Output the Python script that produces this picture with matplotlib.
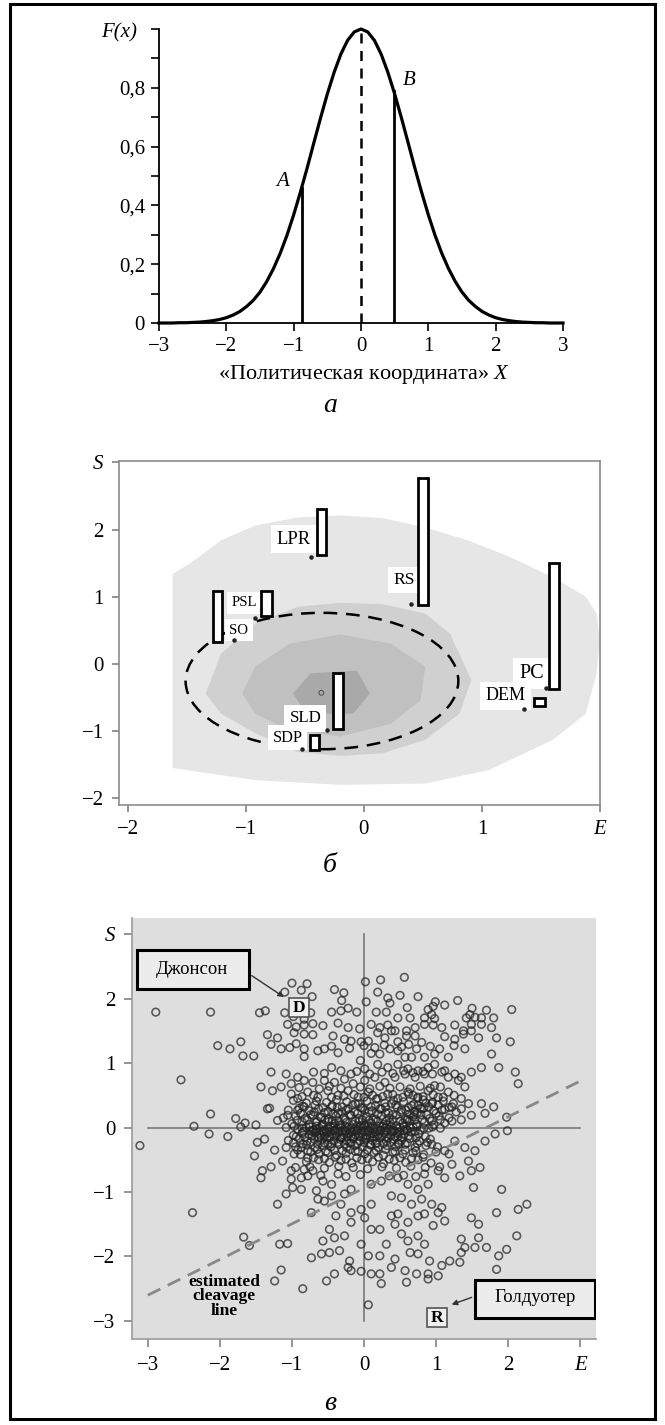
import matplotlib
matplotlib.use("Agg")
import matplotlib.pyplot as plt
import numpy as np
from matplotlib.patches import Rectangle, Ellipse

plt.rcParams["font.family"] = ["Liberation Serif", "DejaVu Serif"]
plt.rcParams["mathtext.fontset"] = "custom"
plt.rcParams["mathtext.rm"] = "Liberation Serif"
plt.rcParams["mathtext.it"] = "Liberation Serif:italic"

# ---- panel a: curve, x every 0.1 from -3 to 3
curve_y = [0.000, 0.000, 0.000, 0.001, 0.001, 0.002, 0.003, 0.005, 0.008, 0.012,
           0.018, 0.027, 0.039, 0.056, 0.077, 0.105, 0.141, 0.185, 0.237, 0.298,
           0.368, 0.445, 0.527, 0.613, 0.698, 0.779, 0.852, 0.914, 0.961, 0.990,
           1.000,
           0.990, 0.961, 0.914, 0.852, 0.779, 0.698, 0.613, 0.527, 0.445, 0.368,
           0.298, 0.237, 0.185, 0.141, 0.105, 0.077, 0.056, 0.039, 0.027, 0.018,
           0.012, 0.008, 0.005, 0.003, 0.002, 0.001, 0.001, 0.000, 0.000, 0.000]
curve_x = np.arange(-30, 31) / 10
cut_names = ["A", "B"]
cut_x = [-0.88, 0.49]
cut_h = [0.46, 0.79]

# ---- panel b: density contours, parties
zone1_E = [-1.62, -1.62, -1.46, -1.21, -0.92, -0.56, -0.20, 0.16, 0.52, 0.88, 1.24, 1.60,
           1.88, 1.97, 2.0, 1.97, 1.88, 1.60, 1.06, 0.52, -0.20, -0.92]
zone1_S = [-1.55, 1.34, 1.51, 1.84, 2.06, 2.18, 2.21, 2.17, 2.03, 1.84, 1.59, 1.29,
           1.0, 0.75, 0.35, -0.15, -0.74, -1.13, -1.58, -1.78, -1.80, -1.73]
zone2_E = [-1.34, -1.21, -0.92, -0.56, -0.20, 0.16, 0.52, 0.73, 0.91, 0.81, 0.52, 0.16,
           -0.20, -0.56, -0.92, -1.21]
zone2_S = [-0.44, 0.15, 0.60, 0.85, 0.91, 0.89, 0.75, 0.45, -0.24, -0.74, -1.13, -1.33,
           -1.37, -1.31, -1.03, -0.74]
zone3_E = [-1.03, -0.92, -0.63, -0.20, 0.23, 0.52, 0.48, 0.23, -0.20, -0.63, -0.92]
zone3_S = [-0.44, -0.04, 0.30, 0.44, 0.30, -0.04, -0.54, -0.89, -1.08, -0.99, -0.74]
zone4_E = [-0.60, -0.45, -0.06, 0.05, -0.09, -0.49]
zone4_S = [-0.44, -0.14, -0.10, -0.44, -0.74, -0.74]
center_E, center_S = -0.36, -0.43
ellipse_E, ellipse_S, ellipse_w, ellipse_h = -0.355, -0.255, 2.31, 2.03

parties = ["LPR", "RS", "PSL", "SO", "SLD", "SDP", "PC", "DEM"]
party_E = [-0.45, 0.40, -0.92, -1.10, -0.31, -0.52, 1.54, 1.36]
party_S = [1.59, 0.89, 0.69, 0.35, -0.99, -1.26, -0.36, -0.67]
bar_left = [-0.40, 0.457, -0.87, -1.28, -0.26, -0.46, 1.57, 1.44]
bar_right = [-0.32, 0.543, -0.78, -1.20, -0.18, -0.38, 1.65, 1.53]
bar_lo = [1.62, 0.88, 0.71, 0.33, -0.97, -1.28, -0.38, -0.63]
bar_hi = [2.31, 2.76, 1.09, 1.09, -0.14, -1.06, 1.50, -0.50]

# ---- panel c: voters (E, S)
voters = [
    (0.56, 2.33), (0.23, 2.29), (0.02, 2.26), (-1.0, 2.24), (-0.79, 2.23), (-0.87, 2.13),
    (-0.41, 2.14), (-0.28, 2.09), (-1.10, 2.10), (-0.72, 2.03), (0.19, 2.10), (0.33, 2.01),
    (0.50, 2.05), (0.75, 2.03), (-0.31, 1.97), (0.03, 1.95), (0.36, 1.93), (0.99, 1.95),
    (1.30, 1.97), (0.60, 1.86), (0.89, 1.83), (0.96, 1.88), (1.50, 1.85), (1.70, 1.82),
    (2.05, 1.83), (1.12, 1.90), (-2.89, 1.79), (-2.13, 1.79), (-1.45, 1.78), (-1.37, 1.81),
    (-1.10, 1.78), (-0.45, 1.79), (-0.32, 1.81), (-0.22, 1.85), (-0.10, 1.79), (0.17, 1.79),
    (0.31, 1.79), (0.47, 1.70), (0.64, 1.70), (0.84, 1.70), (0.94, 1.75), (0.98, 1.69),
    (1.42, 1.70), (1.47, 1.75), (1.54, 1.71), (1.63, 1.70), (1.80, 1.70), (-0.98, 1.72),
    (-0.83, 1.68), (-0.74, 1.78),
    (-1.06, 1.60), (-0.94, 1.56), (-0.83, 1.59), (-0.71, 1.61), (-0.57, 1.58), (-0.36, 1.62),
    (-0.22, 1.55), (-0.06, 1.53), (0.10, 1.60), (0.22, 1.55), (0.33, 1.59), (0.43, 1.50),
    (0.59, 1.50), (0.71, 1.55), (0.84, 1.60), (0.96, 1.59), (1.08, 1.55), (1.26, 1.59),
    (1.38, 1.50), (1.49, 1.60), (1.63, 1.60), (1.77, 1.55),
    (-1.34, 1.44), (-1.20, 1.39), (-0.97, 1.47), (-0.83, 1.45), (-0.71, 1.44), (-0.43, 1.42),
    (-0.27, 1.37), (-0.18, 1.34), (-0.04, 1.33), (0.06, 1.34), (0.19, 1.47), (0.29, 1.39),
    (0.38, 1.50), (0.47, 1.33), (0.59, 1.42), (0.71, 1.42), (0.80, 1.32), (1.12, 1.41),
    (1.26, 1.37), (1.38, 1.45), (1.49, 1.50), (1.59, 1.39), (1.84, 1.39), (2.03, 1.33),
    (-2.03, 1.27), (-1.86, 1.22), (-1.71, 1.33), (-1.68, 1.11), (-1.53, 1.11), (-1.29, 1.29),
    (-1.15, 1.22), (-1.03, 1.24), (-0.94, 1.30), (-0.83, 1.22), (-0.64, 1.19), (-0.55, 1.22),
    (-0.83, 1.10), (-0.36, 1.16), (-0.05, 1.04), (0.10, 1.15), (0.22, 1.14), (0.36, 1.22),
    (0.47, 1.19), (0.57, 1.09), (0.66, 1.09), (0.73, 1.22), (0.84, 1.09), (0.98, 1.14),
    (1.17, 1.09), (1.40, 1.22), (1.77, 1.14),
    (-0.45, 1.26), (-0.20, 1.23), (0.00, 1.27), (0.15, 1.24), (0.28, 1.28), (0.52, 1.25),
    (0.62, 1.29), (0.92, 1.26), (1.05, 1.22), (1.25, 1.27),
    (-0.45, 0.93), (-0.32, 0.88), (-0.18, 0.83), (0.01, 0.91), (0.19, 0.98), (0.33, 0.93),
    (0.47, 0.98), (0.61, 0.91), (0.75, 0.88), (0.89, 0.93), (0.98, 0.98), (1.12, 0.88),
    (1.26, 0.83), (1.35, 0.78), (1.49, 0.86), (1.63, 0.93), (1.87, 0.93), (2.10, 0.86),
    (2.14, 0.68), (-2.54, 0.74), (-1.29, 0.86), (-1.08, 0.83), (-0.92, 0.78), (-1.43, 0.63),
    (-1.27, 0.57), (-1.15, 0.63), (-1.01, 0.68), (-0.83, 0.73), (-0.71, 0.70), (-0.55, 0.73),
    (-0.41, 0.70), (-0.27, 0.75), (-0.15, 0.68), (0.01, 0.73), (0.15, 0.78), (0.29, 0.70),
    (0.43, 0.78), (0.57, 0.83), (0.71, 0.78), (0.84, 0.83), (0.98, 0.65), (1.17, 0.78),
    (1.31, 0.73), (1.40, 0.63),
    (-0.70, 0.86), (-0.55, 0.84), (-0.10, 0.87), (0.08, 0.83), (0.25, 0.86), (0.40, 0.84),
    (0.55, 0.88), (0.68, 0.85), (0.82, 0.87), (0.95, 0.83), (1.08, 0.86),
    (-0.90, 0.62), (-0.62, 0.60), (-0.48, 0.64), (-0.32, 0.61), (-0.05, 0.63), (0.08, 0.60),
    (0.22, 0.64), (0.36, 0.61), (0.50, 0.63), (0.64, 0.60), (0.78, 0.64), (0.92, 0.61),
    (1.06, 0.63),
    (-1.01, 0.52), (-0.92, 0.45), (-0.78, 0.55), (-0.64, 0.47), (-0.50, 0.57), (-0.36, 0.50),
    (-0.22, 0.57), (-0.08, 0.47), (0.06, 0.55), (0.19, 0.45), (0.33, 0.52), (0.47, 0.45),
    (0.61, 0.55), (0.75, 0.47), (0.89, 0.57), (1.03, 0.47), (1.17, 0.55), (1.35, 0.45),
    (1.45, 0.37), (1.63, 0.37), (1.80, 0.32),
    (-0.86, 0.48), (-0.70, 0.50), (-0.45, 0.47), (-0.28, 0.49), (-0.14, 0.51), (0.00, 0.47),
    (0.12, 0.50), (0.26, 0.48), (0.40, 0.51), (0.54, 0.47), (0.68, 0.50), (0.82, 0.48),
    (0.96, 0.51), (1.10, 0.47), (1.25, 0.50),
    (-2.13, 0.21), (-1.78, 0.14), (-1.50, 0.04), (-1.34, 0.29), (-1.20, 0.11), (-1.06, 0.19),
    (-0.92, 0.27), (-0.83, 0.32), (-0.69, 0.24), (-0.59, 0.16), (-0.45, 0.32), (-0.36, 0.22),
    (-0.22, 0.29), (-0.08, 0.37), (0.01, 0.27), (0.10, 0.32), (0.24, 0.29), (0.38, 0.37),
    (0.52, 0.27), (0.66, 0.34), (0.80, 0.29), (0.94, 0.37), (1.08, 0.27), (1.22, 0.32),
    (1.35, 0.29), (1.49, 0.19), (1.68, 0.22), (1.98, 0.16), (-2.36, 0.02), (-1.71, 0.01),
    (-1.65, 0.07), (-1.31, 0.30), (1.99, -0.05),
    # dense core
    (-0.98, 0.42), (-0.80, 0.38), (-0.66, 0.41), (-0.52, 0.39), (-0.38, 0.43), (-0.24, 0.40),
    (-0.12, 0.37), (0.04, 0.41), (0.17, 0.44), (0.29, 0.38), (0.41, 0.42), (0.55, 0.40),
    (0.69, 0.36), (0.82, 0.43), (0.95, 0.39), (1.10, 0.41), (1.24, 0.37),
    (-0.85, 0.33), (-0.68, 0.35), (-0.57, 0.31), (-0.44, 0.34), (-0.30, 0.32), (-0.16, 0.35),
    (-0.04, 0.31), (0.16, 0.34), (0.30, 0.32), (0.44, 0.35), (0.62, 0.31), (0.75, 0.34),
    (0.90, 0.32), (1.03, 0.35), (1.18, 0.31),
    (-1.05, 0.27), (-0.90, 0.30), (-0.76, 0.26), (-0.63, 0.29), (-0.50, 0.25), (-0.37, 0.31),
    (-0.25, 0.27), (-0.13, 0.24), (-0.02, 0.30), (0.11, 0.26), (0.22, 0.29), (0.34, 0.23),
    (0.46, 0.31), (0.58, 0.27), (0.70, 0.25), (0.83, 0.30), (0.97, 0.26), (1.12, 0.28),
    (1.28, 0.24),
    (-0.88, 0.22), (-0.74, 0.20), (-0.55, 0.23), (-0.43, 0.21), (-0.31, 0.24), (-0.20, 0.20),
    (-0.09, 0.22), (0.07, 0.24), (0.19, 0.21), (0.30, 0.23), (0.40, 0.20), (0.51, 0.24),
    (0.63, 0.21), (0.74, 0.23), (0.87, 0.20), (1.00, 0.22),
    (-1.12, 0.15), (-0.95, 0.18), (-0.82, 0.14), (-0.71, 0.19), (-0.60, 0.16), (-0.49, 0.13),
    (-0.39, 0.18), (-0.28, 0.15), (-0.18, 0.19), (-0.07, 0.14), (0.03, 0.17), (0.13, 0.12),
    (0.24, 0.18), (0.35, 0.15), (0.45, 0.19), (0.57, 0.13), (0.68, 0.17), (0.79, 0.20),
    (0.91, 0.14), (1.04, 0.18), (1.18, 0.15), (1.35, 0.12),
    (-0.93, 0.11), (-0.79, 0.12), (-0.65, 0.10), (-0.54, 0.12), (-0.44, 0.11), (-0.35, 0.10),
    (-0.26, 0.12), (-0.12, 0.10), (-0.02, 0.12), (0.07, 0.11), (0.16, 0.13), (0.31, 0.10),
    (0.40, 0.12), (0.50, 0.10), (0.60, 0.13), (0.70, 0.11), (0.81, 0.12), (0.94, 0.10),
    (1.06, 0.12), (1.22, 0.10),
    (-1.00, 0.06), (-0.86, 0.09), (-0.76, 0.05), (-0.67, 0.08), (-0.58, 0.04), (-0.49, 0.09),
    (-0.41, 0.06), (-0.32, 0.03), (-0.24, 0.08), (-0.15, 0.05), (-0.07, 0.09), (0.02, 0.04),
    (0.10, 0.07), (0.19, 0.10), (0.27, 0.05), (0.36, 0.08), (0.45, 0.03), (0.54, 0.07),
    (0.63, 0.10), (0.73, 0.05), (0.84, 0.08), (0.97, 0.04), (1.12, 0.07),
    (-1.08, 0.00), (-0.97, 0.02), (-0.86, -0.01), (-0.75, 0.01), (-0.66, -0.02), (-0.58, 0.02),
    (-0.50, -0.01), (-0.42, 0.02), (-0.34, 0.00), (-0.26, 0.02), (-0.18, -0.01), (-0.10, 0.02),
    (-0.02, 0.00), (0.06, 0.02), (0.14, -0.01), (0.22, 0.02), (0.30, 0.00), (0.38, 0.02),
    (0.46, -0.01), (0.55, 0.02), (0.64, 0.00), (0.73, 0.02), (0.83, -0.01), (0.95, 0.01),
    (1.06, -0.01),
    (-0.92, -0.03), (-0.80, 0.00), (-0.70, -0.04), (-0.62, -0.01), (-0.54, -0.03), (-0.46, 0.01),
    (-0.38, -0.02), (-0.30, -0.05), (-0.22, 0.00), (-0.14, -0.03), (-0.06, 0.01), (0.02, -0.04),
    (0.10, -0.01), (0.18, -0.03), (0.26, 0.01), (0.34, -0.02), (0.42, -0.05), (0.50, 0.00),
    (0.59, -0.03), (0.68, 0.01), (0.78, -0.04), (0.90, -0.01),
    (-0.84, -0.06), (-0.74, -0.05), (-0.66, -0.07), (-0.57, -0.05), (-0.49, -0.07), (-0.41, -0.04),
    (-0.33, -0.06), (-0.25, -0.05), (-0.17, -0.07), (-0.09, -0.04), (-0.01, -0.06), (0.07, -0.05),
    (0.15, -0.07), (0.23, -0.04), (0.31, -0.06), (0.40, -0.05), (0.49, -0.07), (0.60, -0.04),
    (0.71, -0.06),
    (-0.98, -0.12), (-0.86, -0.09), (-0.76, -0.11), (-0.68, -0.08), (-0.60, -0.12), (-0.52, -0.09),
    (-0.44, -0.11), (-0.36, -0.08), (-0.28, -0.12), (-0.20, -0.09), (-0.12, -0.11), (-0.04, -0.08),
    (0.04, -0.12), (0.12, -0.09), (0.20, -0.11), (0.28, -0.08), (0.37, -0.12), (0.46, -0.09),
    (0.55, -0.11), (0.65, -0.07), (0.76, -0.10),
    (-0.94, -0.14), (-0.82, -0.15), (-0.72, -0.13), (-0.63, -0.16), (-0.55, -0.14), (-0.47, -0.15),
    (-0.39, -0.13), (-0.31, -0.16), (-0.23, -0.14), (-0.15, -0.15), (-0.07, -0.13), (0.01, -0.16),
    (0.09, -0.14), (0.17, -0.15), (0.25, -0.13), (0.34, -0.16), (0.43, -0.14), (0.52, -0.15),
    (0.62, -0.13), (0.72, -0.16), (0.85, -0.14),
    (-1.05, -0.20), (-0.90, -0.17), (-0.79, -0.21), (-0.69, -0.18), (-0.60, -0.20), (-0.51, -0.16),
    (-0.42, -0.21), (-0.33, -0.18), (-0.24, -0.20), (-0.15, -0.17), (-0.06, -0.21), (0.03, -0.18),
    (0.12, -0.20), (0.22, -0.16), (0.31, -0.21), (0.41, -0.18), (0.52, -0.20), (0.64, -0.17),
    (0.77, -0.21), (0.92, -0.18),
    (-0.98, -0.24), (-0.85, -0.25), (-0.74, -0.23), (-0.64, -0.26), (-0.55, -0.24), (-0.45, -0.25),
    (-0.36, -0.23), (-0.27, -0.26), (-0.18, -0.24), (-0.09, -0.25), (0.00, -0.23), (0.09, -0.26),
    (0.18, -0.24), (0.27, -0.25), (0.37, -0.23), (0.48, -0.26), (0.60, -0.24), (0.74, -0.25),
    (0.88, -0.23),
    (-0.95, -0.30), (-0.80, -0.27), (-0.68, -0.31), (-0.57, -0.28), (-0.46, -0.30), (-0.35, -0.26),
    (-0.24, -0.31), (-0.13, -0.28), (-0.02, -0.30), (0.09, -0.27), (0.20, -0.31), (0.32, -0.28),
    (0.44, -0.30), (0.57, -0.26), (0.71, -0.31), (0.86, -0.28), (1.02, -0.30),
    (-0.92, -0.35), (-0.78, -0.36), (-0.65, -0.34), (-0.53, -0.37), (-0.41, -0.35), (-0.30, -0.36),
    (-0.19, -0.34), (-0.08, -0.37), (0.05, -0.35), (0.17, -0.36), (0.30, -0.34), (0.43, -0.37),
    (0.57, -0.35), (0.72, -0.36),
    (-0.88, -0.42), (-0.74, -0.38), (-0.62, -0.41), (-0.50, -0.39), (-0.38, -0.43), (-0.25, -0.40),
    (-0.12, -0.37), (0.01, -0.41), (0.14, -0.39), (0.27, -0.43), (0.40, -0.38), (0.54, -0.41),
    (0.68, -0.39), (0.83, -0.42), (1.00, -0.38), (1.18, -0.41),
    (-0.70, -0.47), (-0.55, -0.48), (-0.40, -0.46), (-0.25, -0.49), (-0.10, -0.47), (0.05, -0.48),
    (0.20, -0.46), (0.35, -0.49), (0.50, -0.47), (0.66, -0.48), (0.82, -0.46),
    (-0.80, -0.53), (-0.63, -0.50), (-0.48, -0.54), (-0.32, -0.51), (-0.17, -0.55), (-0.03, -0.50),
    (0.12, -0.53), (0.27, -0.56), (0.42, -0.51), (0.58, -0.54), (0.75, -0.50), (0.93, -0.55),
    (-0.95, -0.62), (-0.75, -0.61), (-0.55, -0.63), (-0.35, -0.60), (-0.15, -0.62), (0.05, -0.64),
    (0.25, -0.61), (0.45, -0.63), (0.65, -0.60), (0.85, -0.62), (1.05, -0.61),
    (-0.78, -0.75), (-0.60, -0.74), (-0.25, -0.76), (-0.05, -0.73), (0.35, -0.75), (0.55, -0.74),
    (0.72, -0.76),
    (-0.72, -0.06), (-0.64, -0.15), (-0.56, -0.06), (-0.48, -0.14), (-0.40, -0.05), (-0.32, -0.15),
    (-0.26, -0.06), (-0.18, -0.14), (-0.10, -0.05), (-0.02, -0.15), (0.06, -0.06), (0.14, -0.14),
    (0.22, -0.05), (0.30, -0.15), (0.38, -0.06), (0.47, -0.14), (0.56, -0.05),
    (-0.66, 0.02), (-0.50, -0.25), (-0.34, 0.04), (-0.20, -0.24), (0.00, 0.03), (0.16, -0.25),
    (0.32, 0.04), (0.48, -0.24), (0.60, 0.12), (0.70, 0.20), (0.78, 0.30), (0.86, 0.38),
    (0.74, 0.46), (0.62, 0.52),
    # lower half
    (-3.11, -0.28), (-2.15, -0.10), (-1.89, -0.14), (-1.48, -0.23), (-1.38, -0.18), (-1.52, -0.44),
    (-1.24, -0.35), (-1.41, -0.67), (-1.29, -0.61), (-1.43, -0.78), (-1.13, -0.52), (-1.08, -0.31),
    (-0.97, -0.41), (-0.87, -0.31), (-0.78, -0.47), (-1.01, -0.67), (-0.87, -0.78), (-1.01, -0.80),
    (-0.83, -0.65), (-0.99, -0.93), (-0.87, -0.96), (-1.08, -1.03), (-1.20, -1.19), (-0.71, -0.67),
    (-0.66, -0.98), (-0.57, -0.83), (-0.45, -0.88), (-0.36, -0.72), (-0.64, -1.11), (-0.55, -1.14),
    (-0.45, -1.06), (-0.27, -1.03), (-0.18, -0.96), (-0.32, -1.19), (-0.18, -1.32), (-0.04, -1.27),
    (0.10, -1.19), (0.01, -1.40), (-0.73, -1.32), (-0.39, -1.37), (-0.48, -1.58), (-0.18, -1.47),
    (0.10, -0.88), (0.24, -0.83), (0.47, -0.78), (0.61, -0.88), (0.75, -0.96), (0.89, -0.88),
    (0.38, -1.06), (0.52, -1.09), (0.66, -1.19), (0.80, -1.11), (0.94, -1.19), (1.08, -1.24),
    (0.38, -1.37), (0.47, -1.34), (0.61, -1.47), (0.75, -1.37), (0.84, -1.34), (1.03, -1.32),
    (1.12, -1.45), (1.49, -1.40), (1.59, -1.50), (1.84, -1.32), (2.14, -1.27), (2.26, -1.19),
    (1.33, -0.75), (1.49, -0.67), (1.52, -0.93), (1.91, -0.96), (-2.38, -1.32), (-1.67, -1.70),
    (-1.59, -1.83), (-1.17, -1.81), (-1.06, -1.80), (-0.73, -2.02), (-0.59, -1.96), (-0.48, -1.94),
    (-0.34, -1.91), (-0.57, -1.76), (-0.41, -1.71), (-0.27, -1.68), (-0.04, -1.81), (0.10, -1.58),
    (0.22, -1.58), (0.31, -1.81), (0.43, -1.50), (0.52, -1.65), (0.61, -1.76), (0.75, -1.68),
    (0.84, -1.81), (0.96, -1.52), (0.06, -1.99), (0.22, -1.99), (0.43, -2.04), (0.64, -1.94),
    (0.75, -1.96), (0.91, -2.07), (1.08, -2.14), (-0.20, -2.07), (-0.22, -2.17), (-0.18, -2.22),
    (-0.04, -2.23), (0.10, -2.27), (0.22, -2.27), (0.38, -2.17), (0.57, -2.22), (0.73, -2.27),
    (0.89, -2.27), (1.03, -2.30), (1.19, -2.07), (1.33, -2.09), (1.35, -1.94), (0.59, -2.40),
    (0.89, -2.35), (0.24, -2.42), (-0.41, -2.27), (-0.52, -2.38), (-0.85, -2.50), (-1.24, -2.38),
    (-1.15, -2.21), (1.40, -1.86), (1.54, -1.86), (1.70, -1.86), (1.87, -1.99), (1.98, -1.89),
    (2.12, -1.68), (1.84, -2.20), (1.35, -1.73), (1.59, -1.71), (0.06, -2.75),
    (0.94, -0.26), (1.12, -0.36), (1.26, -0.21), (1.40, -0.31), (1.54, -0.36), (1.68, -0.21),
    (1.82, -0.10), (1.45, -0.52), (1.22, -0.57), (1.03, -0.67), (0.84, -0.72), (1.12, -0.78),
    (1.61, -0.62),
]
line_E = [-3.0, 3.0]
line_S = [-2.6, 0.72]

fig = plt.figure(figsize=(6.65, 14.25), dpi=100)
W, H = 665.0, 1425.0


def box(left, top, right, bottom):
    return [left / W, 1 - bottom / H, (right - left) / W, (bottom - top) / H]


fig.patches.append(Rectangle((10 / W, 6 / H), 645 / W, 1415 / H, transform=fig.transFigure,
                             fill=False, lw=2.2, ec="black"))

# ================= panel a
axA = fig.add_axes(box(159, 29, 563, 323))
axA.plot(curve_x, curve_y, color="black", lw=2.3, clip_on=False, zorder=3)
axA.plot([0, 0], [0, 1], color="black", lw=1.8, dashes=(4, 3))
for name, cx, ch in zip(cut_names, cut_x, cut_h):
    axA.plot([cx, cx], [0, ch], color="black", lw=2)
axA.text(-1.17, 0.48, "A", style="italic", fontsize=15, ha="center", va="center")
axA.text(0.71, 0.825, "B", style="italic", fontsize=15, ha="center", va="center")
axA.set_xlim(-3, 3)
axA.set_ylim(0, 1)
for s in ["top", "right"]:
    axA.spines[s].set_visible(False)
for s in ["left", "bottom"]:
    axA.spines[s].set_linewidth(1.3)
axA.set_xticks(range(-3, 4), ["\u22123", "\u22122", "\u22121", "0", "1", "2", "3"])
axA.set_yticks(np.arange(0, 11) / 10,
               ["0", "", "0,2", "", "0,4", "", "0,6", "", "0,8", "", ""])
axA.tick_params(direction="out", length=6, width=1.2, labelsize=15, pad=4)
fig.text(137 / W, 1 - 33 / H, "F(x)", style="italic", fontsize=15, ha="right", va="center")
fig.text(364 / W, 1 - 374 / H, "\u00abПолитическая координата\u00bb $X$", fontsize=16,
         ha="center", va="center")
fig.text(330 / W, 1 - 406 / H, "а", style="italic", fontsize=20, ha="center", va="center")

# ================= panel b
axB = fig.add_axes(box(119, 461, 600, 805))
for zE, zS, col in [(zone1_E, zone1_S, "#e6e6e6"), (zone2_E, zone2_S, "#d0d0d0"),
                    (zone3_E, zone3_S, "#c0c0c0"), (zone4_E, zone4_S, "#a9a9a9")]:
    axB.fill(zE, zS, color=col, lw=0, zorder=1)
axB.scatter([center_E], [center_S], s=12, facecolor="none", edgecolor="#555", lw=0.8, zorder=2)
axB.add_patch(Ellipse((ellipse_E, ellipse_S), ellipse_w, ellipse_h, fill=False, ec="black",
                      lw=1.8, ls=(0, (5.5, 3.5)), zorder=3))
label_offsets = [(-17, 18), (-7, 24), (-11, 15), (5, 10), (-22, 12), (-15, 11), (-14, 15), (-19, 13)]
label_sizes = [13.4, 12.6, 10.7, 10.7, 12.2, 11.8, 14.6, 13]
for i, name in enumerate(parties):
    axB.add_patch(Rectangle((bar_left[i], bar_lo[i]), bar_right[i] - bar_left[i],
                            bar_hi[i] - bar_lo[i], fc="white", ec="black", lw=2, zorder=5))
    axB.annotate(name, (party_E[i], party_S[i]), xytext=label_offsets[i],
                 textcoords="offset pixels", ha="center", va="center",
                 fontsize=label_sizes[i], zorder=4,
                 bbox=dict(boxstyle="square,pad=0.3", fc="white", ec="none"))
axB.scatter(party_E, party_S, s=5, color="#222", zorder=6)
axB.set_xlim(-2.074, 2.0)
axB.set_ylim(-2.1, 3.02)
for s in axB.spines.values():
    s.set_color("#8c8c8c")
    s.set_linewidth(1.2)
axB.set_xticks(range(-2, 3), ["\u22122", "\u22121", "0", "1", "E"])
axB.set_yticks(range(-2, 4), ["\u22122", "\u22121", "0", "1", "2", "S"])
axB.get_xticklabels()[-1].set_fontstyle("italic")
axB.get_yticklabels()[-1].set_fontstyle("italic")
axB.tick_params(direction="out", length=5, width=1.1, color="#777", labelsize=15, pad=6)
fig.text(330 / W, 1 - 866 / H, "б", style="italic", fontsize=20, ha="center", va="center")

# ================= panel c
axC = fig.add_axes(box(132, 918, 596, 1339))
axC.set_facecolor("#dedede")
axC.plot([-3, 3], [0, 0], color="#6e6e6e", lw=1.1, zorder=1)
axC.plot([0, 0], [-3, 3], color="#6e6e6e", lw=1.1, zorder=1)
vE, vS = zip(*voters)
axC.scatter(vE, vS, s=30, facecolor="none", edgecolor="#222222", linewidths=1.15,
            alpha=0.72, zorder=2)
axC.plot(line_E, line_S, color="#888888", lw=2, dashes=(5, 3), zorder=3)

axC.add_patch(Rectangle((-3.15, 2.15), 1.55, 0.61, fc="#ececec", ec="black", lw=2.2, zorder=5))
axC.text(-2.39, 2.45, "Джонсон", fontsize=13.5, ha="center", va="center", zorder=6)
axC.add_patch(Rectangle((-1.04, 1.71), 0.27, 0.30, fc="#f0f0f0", ec="#555", lw=1.2, zorder=5))
axC.text(-0.905, 1.86, "D", fontsize=12.5, fontweight="bold", ha="center", va="center", zorder=6)
axC.annotate("", xy=(-1.08, 2.0), xytext=(-1.59, 2.38),
             arrowprops=dict(arrowstyle="-|>", color="#333", lw=1.0, mutation_scale=8), zorder=6)

axC.add_patch(Rectangle((1.54, -2.96), 1.66, 0.60, fc="#ececec", ec="black", lw=2.2, zorder=5))
axC.text(2.37, -2.64, "Голдуотер", fontsize=13.5, ha="center", va="center", zorder=6)
axC.add_patch(Rectangle((0.88, -3.09), 0.27, 0.29, fc="#f0f0f0", ec="#555", lw=1.2, zorder=5))
axC.text(1.015, -2.95, "R", fontsize=12.5, fontweight="bold", ha="center", va="center", zorder=6)
axC.annotate("", xy=(1.18, -2.76), xytext=(1.53, -2.62),
             arrowprops=dict(arrowstyle="-|>", color="#333", lw=1.0, mutation_scale=8), zorder=6)

axC.text(-1.94, -2.62, "estimated\ncleavage\nline", fontsize=12.5, fontweight="bold",
         ha="center", va="center", linespacing=0.9, zorder=6)

axC.set_xlim(-3.22, 3.22)
axC.set_ylim(-3.28, 3.25)
for s in ["top", "right"]:
    axC.spines[s].set_visible(False)
for s in ["left", "bottom"]:
    axC.spines[s].set_color("#9a9a9a")
    axC.spines[s].set_linewidth(1.2)
axC.set_xticks(range(-3, 4), ["\u22123", "\u22122", "\u22121", "0", "1", "2", "E"])
axC.set_yticks(range(-3, 4), ["\u22123", "\u22122", "\u22121", "0", "1", "2", "S"])
axC.get_xticklabels()[-1].set_fontstyle("italic")
axC.get_yticklabels()[-1].set_fontstyle("italic")
axC.tick_params(direction="out", length=6, width=1.1, color="#777", labelsize=15, pad=6)
fig.text(330 / W, 1 - 1403 / H, "в", style="italic", fontsize=20, ha="center", va="center")

fig.savefig("out.png", dpi=100)
